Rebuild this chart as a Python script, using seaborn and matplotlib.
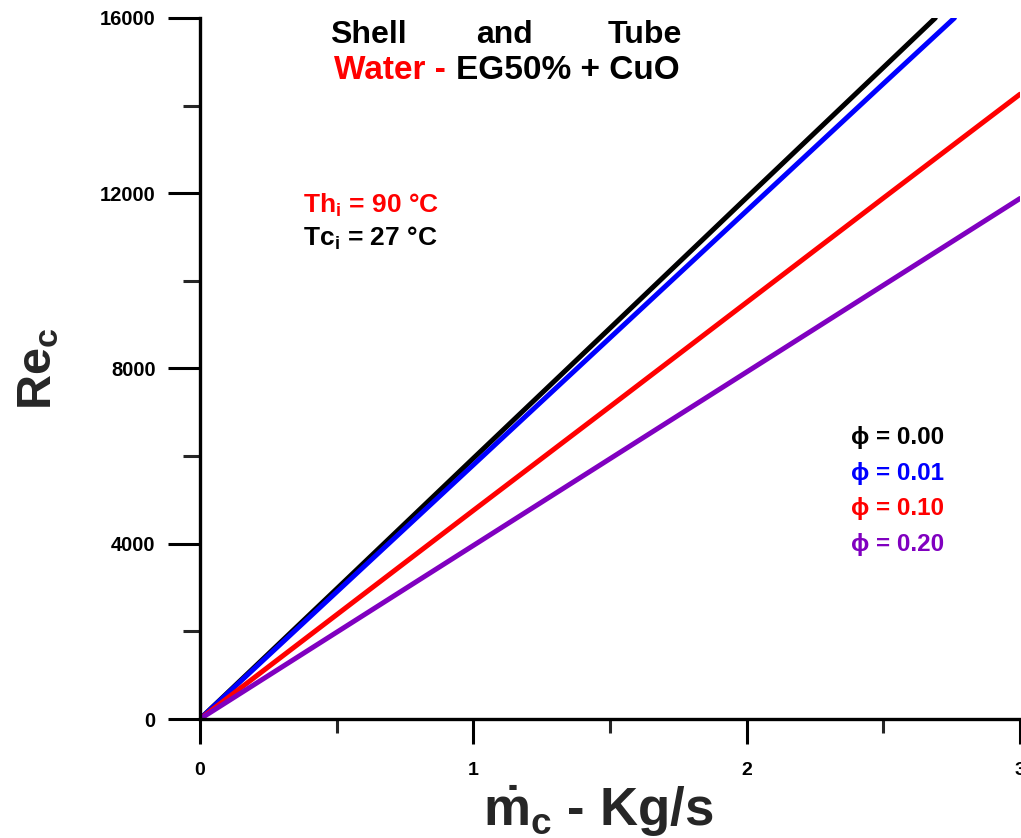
import matplotlib
matplotlib.use("Agg")
import matplotlib.pyplot as plt
import seaborn as sns
import pandas as pd

# ---- data ----
x_black = [0.0, 0.5, 1.0, 1.5, 2.0, 2.5, 2.69]
y_black = [0, 2970, 5950, 8920, 11900, 14870, 16000]
x_blue = [0.0, 0.5, 1.0, 1.5, 2.0, 2.5, 2.76]
y_blue = [0, 2900, 5800, 8700, 11600, 14500, 16000]
x_red = [0.0, 0.5, 1.0, 1.5, 2.0, 2.5, 3.0]
y_red = [0, 2380, 4760, 7130, 9510, 11890, 14260]
x_purple = [0.0, 0.5, 1.0, 1.5, 2.0, 2.5, 3.0]
y_purple = [0, 1980, 3960, 5940, 7920, 9900, 11880]

series_names = ["ϕ = 0.00", "ϕ = 0.01", "ϕ = 0.10", "ϕ = 0.20"]
series_colors = ["#000000", "#0000ff", "#ff0000", "#8000c0"]
xs = [x_black, x_blue, x_red, x_purple]
ys = [y_black, y_blue, y_red, y_purple]

x_ticks = [0, 1, 2, 3]
y_ticks = [0, 4000, 8000, 12000, 16000]

rows = []
for name, xv, yv in zip(series_names, xs, ys):
    for a, b in zip(xv, yv):
        rows.append({"m": a, "Re": b, "phi": name})
df = pd.DataFrame(rows)

sns.set_style("ticks")
plt.rcParams["font.family"] = ["Liberation Sans", "DejaVu Sans"]
plt.rcParams["font.weight"] = "bold"
plt.rcParams["mathtext.fontset"] = "custom"
plt.rcParams["mathtext.rm"] = "Liberation Sans:bold"
plt.rcParams["mathtext.bf"] = "Liberation Sans:bold"
plt.rcParams["mathtext.it"] = "Liberation Sans:bold"

fig = plt.figure(figsize=(10.21, 8.38), dpi=100)
ax = fig.add_axes([200 / 1021, 119 / 838, 820 / 1021, 701 / 838])

sns.lineplot(data=df, x="m", y="Re", hue="phi", palette=series_colors,
             linewidth=3.6, legend=False, ax=ax, sort=False)

ax.set_xlim(0, 3)
ax.set_ylim(0, 16000)
ax.set_xticks(x_ticks)
ax.set_xticklabels([str(t) for t in x_ticks])
ax.set_yticks(y_ticks)
ax.set_yticklabels([str(t) for t in y_ticks])
ax.set_xticks([0.5, 1.5, 2.5], minor=True)
ax.set_yticks([2000, 6000, 10000, 14000], minor=True)

for s in ["top", "right"]:
    ax.spines[s].set_visible(False)
for s in ["left", "bottom"]:
    ax.spines[s].set_linewidth(2.4)
    ax.spines[s].set_color("black")

ax.tick_params(axis="x", which="major", length=18, width=2.2, direction="out",
               labelsize=14, pad=13, colors="black")
ax.tick_params(axis="x", which="minor", length=10, width=2.2, direction="out")
ax.tick_params(axis="y", which="major", length=23, width=2.2, direction="out",
               labelsize=14.5, pad=9, colors="black")
ax.tick_params(axis="y", which="minor", length=12, width=2.2, direction="out")
for lab in ax.get_xticklabels() + ax.get_yticklabels():
    lab.set_fontweight("bold")

ax.set_xlabel(r"$\dot{\mathrm{m}}_{\mathrm{c}}$ - Kg/s", fontsize=38,
              fontweight="bold")
ax.xaxis.set_label_coords(0.486, -0.092)
ax.set_ylabel(r"Re$_{\mathrm{c}}$", fontsize=35, fontweight="bold", labelpad=28)
ax.grid(False)

# titles
fs_title = 23
row1 = 1 - 43 / 838
row2 = 1 - 79 / 838
fig.text(330 / 1021, row1, "Shell", ha="left", va="baseline",
         fontsize=fs_title, fontweight="bold", color="black")
fig.text(504 / 1021, row1, "and", ha="center", va="baseline",
         fontsize=fs_title, fontweight="bold", color="black")
fig.text(682 / 1021, row1, "Tube", ha="right", va="baseline",
         fontsize=fs_title, fontweight="bold", color="black")
fig.text(446 / 1021, row2, "Water -", ha="right", va="baseline",
         fontsize=fs_title + 1, fontweight="bold", color="#ff0000")
fig.text(456 / 1021, row2, "EG50% + CuO", ha="left", va="baseline",
         fontsize=fs_title + 1, fontweight="bold", color="black")

fig.text(303 / 1021, 1 - 205 / 838, r"Th$_{\mathrm{i}}$ = 90 °C", ha="left",
         va="center", fontsize=19, fontweight="bold", color="#ff0000")
fig.text(303 / 1021, 1 - 238 / 838, r"Tc$_{\mathrm{i}}$ = 27 °C", ha="left",
         va="center", fontsize=19, fontweight="bold", color="black")

legend_y = [437, 473, 509, 545]
for name, col, yy in zip(series_names, series_colors, legend_y):
    fig.text(851 / 1021, 1 - yy / 838, name, ha="left", va="center",
             fontsize=17.5, fontweight="bold", color=col,
             family=["Liberation Sans", "DejaVu Sans"])

fig.savefig("out.png", dpi=100)
